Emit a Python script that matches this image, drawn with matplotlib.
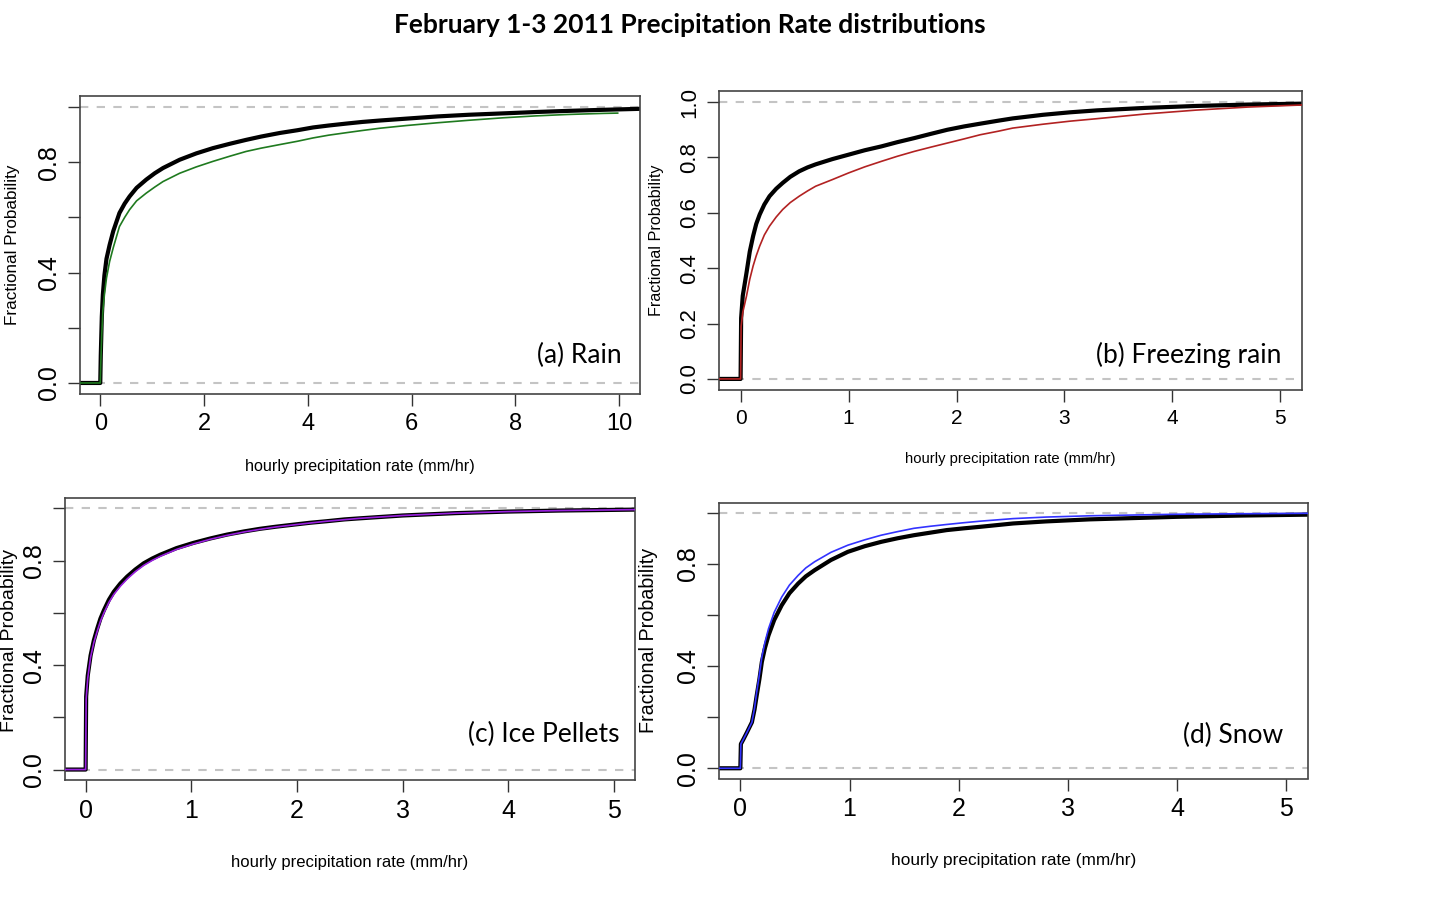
import matplotlib
matplotlib.use("Agg")
import matplotlib.pyplot as plt

# figure size in pixels (dpi 100)
W, H = 1451, 899

# --- data (x in mm/hr, y = cumulative fraction) ---
# (a) Rain
rain_x = [-1, 0, 0.01, 0.03, 0.05, 0.08, 0.12, 0.18, 0.25, 0.37, 0.47, 0.565, 0.7, 0.886,
          1.05, 1.21, 1.53, 1.85, 2.17, 2.5, 2.81, 3.1, 3.46, 3.8, 4.1, 4.4, 4.74, 5.05,
          5.38, 5.9, 6.5, 7.1, 7.76, 8.4, 9.0, 9.7, 10.5]
rain_model = [0, 0, 0.10, 0.24, 0.32, 0.39, 0.45, 0.50, 0.55, 0.616, 0.65, 0.676, 0.707, 0.737,
              0.760, 0.779, 0.809, 0.832, 0.851, 0.867, 0.881, 0.893, 0.906, 0.916, 0.926, 0.933,
              0.940, 0.946, 0.951, 0.958, 0.966, 0.972, 0.977, 0.982, 0.986, 0.990, 0.994]
rain_obs_x = [-1, 0, 0.01, 0.03, 0.05, 0.08, 0.12, 0.18, 0.25, 0.37, 0.47, 0.565, 0.7, 0.886,
              1.05, 1.21, 1.53, 1.85, 2.17, 2.5, 2.81, 3.1, 3.46, 3.8, 4.1, 4.4, 4.74, 5.05,
              5.38, 5.9, 6.5, 7.1, 7.76, 8.4, 9.0, 9.7, 9.97]
rain_obs = [0, 0, 0.07, 0.18, 0.26, 0.32, 0.38, 0.44, 0.49, 0.567, 0.60, 0.628, 0.66, 0.688,
            0.71, 0.73, 0.76, 0.783, 0.803, 0.822, 0.839, 0.851, 0.864, 0.876, 0.888, 0.898,
            0.907, 0.915, 0.923, 0.933, 0.943, 0.952, 0.961, 0.968, 0.973, 0.977, 0.978]

# (b) Freezing rain
frz_x = [-1, 0, 0.005, 0.02, 0.055, 0.085, 0.116, 0.145, 0.177, 0.22, 0.268, 0.33, 0.39,
         0.46, 0.543, 0.62, 0.695, 0.85, 1.0, 1.15, 1.305, 1.45, 1.61, 1.76, 1.915, 2.07,
         2.22, 2.39, 2.52, 2.8, 3.05, 3.3, 3.75, 4.22, 4.7, 5.3]
frz_model = [0, 0, 0.22, 0.30, 0.384, 0.46, 0.516, 0.56, 0.594, 0.63, 0.66, 0.687, 0.708,
             0.73, 0.75, 0.764, 0.775, 0.794, 0.81, 0.826, 0.84, 0.855, 0.87, 0.885, 0.90, 0.912,
             0.922, 0.933, 0.941, 0.954, 0.963, 0.970, 0.979, 0.986, 0.991, 0.995]
frz_obs = [0, 0, 0.19, 0.24, 0.30, 0.36, 0.408, 0.445, 0.48, 0.52, 0.552, 0.585, 0.612,
           0.637, 0.66, 0.679, 0.696, 0.72, 0.744, 0.766, 0.786, 0.804, 0.822, 0.837, 0.852, 0.867,
           0.882, 0.895, 0.906, 0.92, 0.931, 0.94, 0.957, 0.971, 0.982, 0.991]

# (c) Ice pellets
ip_x = [-1, 0, 0.005, 0.02, 0.047, 0.078, 0.11, 0.14, 0.173, 0.22, 0.267, 0.33, 0.393,
        0.47, 0.55, 0.63, 0.708, 0.86, 1.02, 1.18, 1.34, 1.5, 1.65, 1.8, 1.97, 2.12, 2.28,
        2.45, 2.59, 3.0, 3.5, 4.0, 4.5, 5.3]
ip_model = [0, 0, 0.28, 0.36, 0.437, 0.495, 0.54, 0.578, 0.61, 0.65, 0.681, 0.713, 0.739,
            0.766, 0.79, 0.808, 0.823, 0.848, 0.868, 0.885, 0.90, 0.912, 0.922, 0.930, 0.938, 0.945,
            0.951, 0.958, 0.962, 0.973, 0.982, 0.988, 0.992, 0.996]
ip_obs = [0, 0, 0.27, 0.35, 0.43, 0.487, 0.53, 0.568, 0.60, 0.64, 0.671, 0.703, 0.73,
          0.758, 0.782, 0.801, 0.817, 0.843, 0.864, 0.882, 0.897, 0.91, 0.92, 0.929, 0.937, 0.944,
          0.951, 0.957, 0.962, 0.973, 0.982, 0.988, 0.992, 0.996]

# (d) Snow
snow_x = [-1, 0, 0.005, 0.03, 0.06, 0.106, 0.13, 0.15, 0.175, 0.197, 0.225, 0.258, 0.31,
          0.379, 0.45, 0.53, 0.6, 0.68, 0.83, 0.985, 1.14, 1.29, 1.44, 1.59, 1.74, 1.89, 2.05,
          2.2, 2.5, 2.8, 3.2, 3.6, 4.0, 4.6, 5.3]
snow_model = [0, 0, 0.095, 0.115, 0.14, 0.18, 0.23, 0.285, 0.35, 0.416, 0.47, 0.52, 0.58,
              0.638, 0.685, 0.723, 0.751, 0.775, 0.815, 0.847, 0.869, 0.886, 0.900, 0.912, 0.922,
              0.932, 0.939, 0.945, 0.958, 0.966, 0.974, 0.979, 0.984, 0.989, 0.993]
snow_obs = [0, 0, 0.095, 0.115, 0.14, 0.18, 0.235, 0.298, 0.368, 0.435, 0.492, 0.546, 0.61,
            0.67, 0.717, 0.755, 0.784, 0.808, 0.845, 0.873, 0.894, 0.912, 0.926, 0.939, 0.947,
            0.954, 0.961, 0.967, 0.977, 0.983, 0.988, 0.991, 0.994, 0.996, 0.998]

y_ticks = [0.0, 0.2, 0.4, 0.6, 0.8, 1.0]
y_labels_sparse = ["0.0", "", "0.4", "", "0.8", ""]
y_labels_full = ["0.0", "0.2", "0.4", "0.6", "0.8", "1.0"]

xlabel = "hourly precipitation rate (mm/hr)"
ylabel = "Fractional Probability"


def box(l, r, t, b):
    # pixel box -> figure fraction
    return [l / W, 1 - b / H, (r - l) / W, (b - t) / H]


def ftext(x, y, s, **kw):
    fig.text(x / W, 1 - y / H, s, **kw)


fig = plt.figure(figsize=(W / 100, H / 100), dpi=100)
plt.rcParams["font.family"] = ["Liberation Sans", "DejaVu Sans"]

panels = [
    dict(pos=box(79.5, 640, 96, 394), xmax=10, xticks=range(0, 11, 2),
         x=rain_x, model=rain_model, ox=rain_obs_x, obs=rain_obs, color="#1f7a1f",
         ylab=y_labels_sparse, tsize=17, ysize=18),
    dict(pos=box(719, 1302, 91, 390), xmax=5, xticks=range(0, 6),
         x=frz_x, model=frz_model, ox=frz_x, obs=frz_obs, color="#b22222",
         ylab=y_labels_full, tsize=15, ysize=16),
    dict(pos=box(64.5, 635, 498, 780), xmax=5, xticks=range(0, 6),
         x=ip_x, model=ip_model, ox=ip_x, obs=ip_obs, color="#9a20e0",
         ylab=y_labels_sparse, tsize=18, ysize=18),
    dict(pos=box(718.5, 1308, 502.5, 778.5), xmax=5, xticks=range(0, 6),
         x=snow_x, model=snow_model, ox=snow_x, obs=snow_obs, color="#3333ff",
         ylab=y_labels_sparse, tsize=18, ysize=18),
]

for p in panels:
    ax = fig.add_axes(p["pos"])
    pad = 0.04 * p["xmax"]
    ax.set_xlim(-pad, p["xmax"] + pad)
    ax.set_ylim(-0.04, 1.04)
    for yy in (0, 1):
        ax.axhline(yy, color="#c4c4c4", lw=1.5, dashes=(4, 4), zorder=1)
    ax.plot(p["x"], p["model"], color="black", lw=3.0, zorder=2,
            solid_joinstyle="round", solid_capstyle="round")
    ax.plot(p["ox"], p["obs"], color=p["color"], lw=1.2, zorder=3, solid_joinstyle="round")
    ax.set_xticks(list(p["xticks"]))
    ax.set_xticklabels([str(t) for t in p["xticks"]], fontsize=p["tsize"])
    ax.set_yticks(y_ticks)
    ax.set_yticklabels(p["ylab"], fontsize=p["ysize"], rotation=90, va="center")
    ax.tick_params(direction="out", length=8.5, width=1.0, color="#333333", pad=5)
    for s in ax.spines.values():
        s.set_color("#444444")
        s.set_linewidth(1.2)

# title and panel tags
ftext(690, 25, "February 1-3 2011 Precipitation Rate distributions",
      family="Lato", weight="bold", fontsize=19, ha="center", va="center")
tag = dict(family="Lato", fontsize=19, ha="right", va="center")
ftext(622, 355, "(a) Rain", **tag)
ftext(1281, 355, "(b) Freezing rain", **tag)
ftext(619, 734, "(c) Ice Pellets", **tag)
ftext(1283, 735, "(d) Snow", **tag)

# axis labels
ftext(360, 467, xlabel, fontsize=11.6, ha="center", va="center")
ftext(1010, 459, xlabel, fontsize=10.6, ha="center", va="center")
ftext(350, 863, xlabel, fontsize=12, ha="center", va="center")
ftext(1014, 860, xlabel, fontsize=12.4, ha="center", va="center")
ftext(13, 245, ylabel, fontsize=12.3, rotation=90, ha="center", va="center")
ftext(657, 240, ylabel, fontsize=11.6, rotation=90, ha="center", va="center")
ftext(10, 640, ylabel, fontsize=14, rotation=90, ha="center", va="center")
ftext(648, 640, ylabel, fontsize=14.2, rotation=90, ha="center", va="center")

fig.savefig("out.png", dpi=100)
